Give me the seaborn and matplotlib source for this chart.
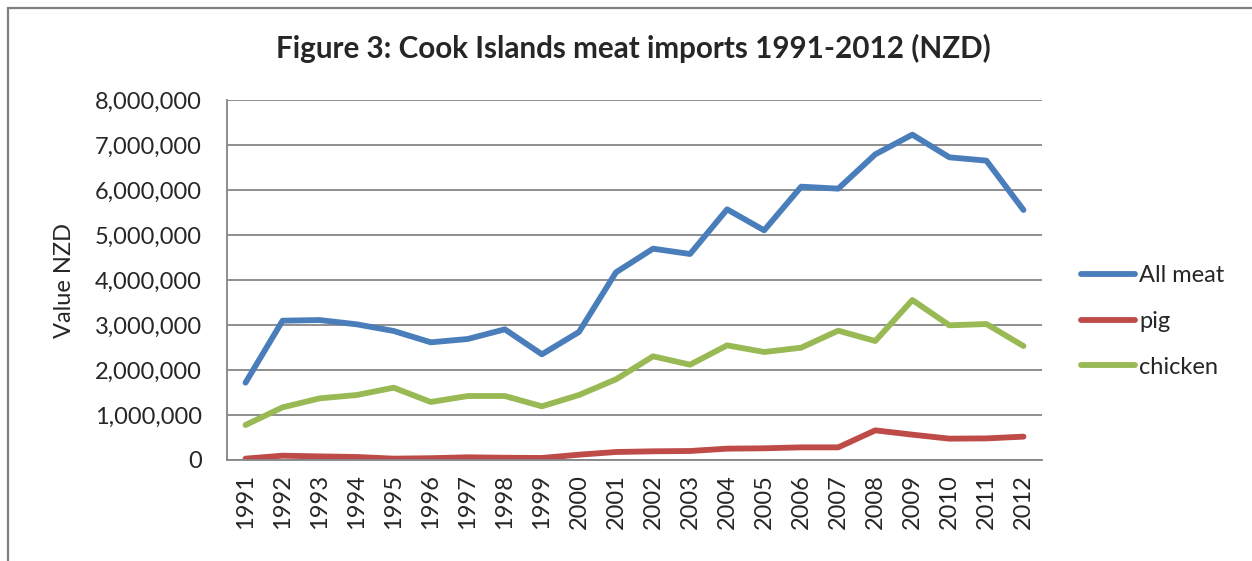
import matplotlib
matplotlib.use("Agg")
import matplotlib.pyplot as plt
import seaborn as sns
import pandas as pd
from matplotlib.ticker import FuncFormatter, MultipleLocator
from matplotlib.patches import Rectangle

years = [str(y) for y in range(1991, 2013)]
all_meat = [1718000, 3096000, 3110000, 3015000, 2867000, 2615000, 2689000, 2904000,
            2348000, 2844000, 4170000, 4696000, 4578000, 5570000, 5104000, 6074000,
            6030000, 6793000, 7230000, 6726000, 6652000, 5556000]
pig = [30000, 96000, 80000, 67000, 30000, 40000, 60000, 50000, 45000, 118000, 178000,
       193000, 200000, 252000, 260000, 281000, 281000, 659000, 563000, 474000, 480000, 519000]
chicken = [778000, 1170000, 1370000, 1444000, 1607000, 1289000, 1422000, 1422000,
           1193000, 1444000, 1793000, 2304000, 2118000, 2548000, 2400000, 2496000,
           2874000, 2644000, 3556000, 2993000, 3022000, 2533000]
series_names = ["All meat", "pig", "chicken"]
colors = ["#4A7EBB", "#BE4B48", "#98B954"]

df = pd.DataFrame({"Year": years * 3,
                   "Value": all_meat + pig + chicken,
                   "Series": [series_names[0]] * len(years) + [series_names[1]] * len(years)
                             + [series_names[2]] * len(years)})
df["x"] = df["Year"].map({y: i for i, y in enumerate(years)})

sns.set_style("white")
plt.rcParams["font.family"] = ["Lato", "DejaVu Sans"]

fig = plt.figure(figsize=(12.52, 5.61), dpi=100)
ax = fig.add_axes([227 / 1252, 1 - 460 / 561, (1042 - 227) / 1252, 360 / 561])

sns.lineplot(data=df, x="x", y="Value", hue="Series", palette=colors,
             hue_order=series_names, linewidth=4.2, ax=ax, legend=True,
             solid_capstyle="round", sort=False)

ax.set_xlim(-0.5, len(years) - 0.5)
ax.set_ylim(0, 8000000)
ax.set_xticks(range(len(years)))
ax.set_xticklabels(years, rotation=90, fontsize=17)
ax.yaxis.set_major_locator(MultipleLocator(1000000))
ax.yaxis.set_major_formatter(FuncFormatter(lambda v, p: f"{int(v):,}"))
ax.tick_params(axis="y", labelsize=17, length=4, color="#868686", width=1.2, pad=14)
ax.tick_params(axis="x", length=0, pad=10)
ax.grid(axis="y", color="#868686", linewidth=1.3)
ax.set_axisbelow(True)
for s in ["top", "right"]:
    ax.spines[s].set_visible(False)
for s in ["left", "bottom"]:
    ax.spines[s].set_color("#868686")
    ax.spines[s].set_linewidth(1.3)
ax.set_xlabel("")
ax.set_ylabel("Value NZD", fontsize=17, labelpad=14)

leg = ax.legend(loc="center left", bbox_to_anchor=(1.022, 0.385), frameon=False,
                fontsize=17, handlelength=2.3, handletextpad=0.15, labelspacing=1.05)
for line in leg.get_lines():
    line.set_linewidth(4.2)
    line.set_solid_capstyle("round")

fig.text(633 / 1252, 1 - 48 / 561, "Figure 3: Cook Islands meat imports 1991-2012 (NZD)",
         ha="center", va="center", fontsize=21.3, fontweight="bold")

fig.patches.append(Rectangle((8 / 1252, -0.1), 1.2, 1 - 8 / 561 + 0.1,
                             transform=fig.transFigure, fill=False,
                             edgecolor="#808080", linewidth=1.6))

fig.savefig("out.png", dpi=100)
